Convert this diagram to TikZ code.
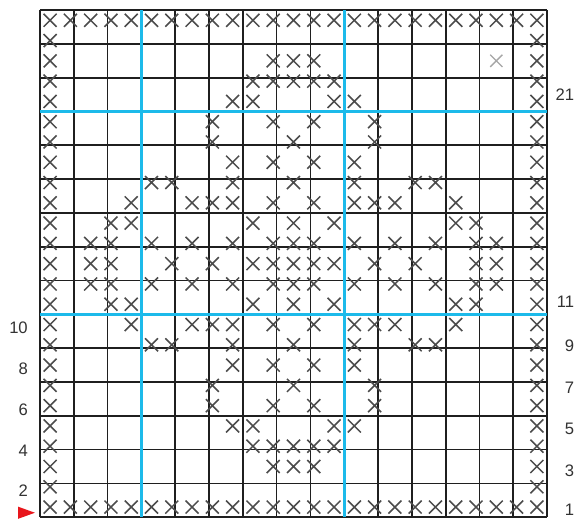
\documentclass[tikz,border=0pt]{standalone}
\usepackage{fontspec}
\setmainfont{Liberation Sans}
\definecolor{garisbiru}{RGB}{28,186,234}
\definecolor{merahpanah}{RGB}{232,22,28}
\tikzset{
  kotak/.style={draw=black!88, line width=1.5pt},
  bantu/.style={draw=garisbiru, line width=2.8pt},
  silang/.style={draw=black!70, line width=1.3pt},
  silangpudar/.style={draw=black!35, line width=1.1pt},
  nomor/.style={text=black!80, font=\fontsize{14}{16}\selectfont, inner sep=0pt},
}
% satu baris tanda silang: #1 = baris, #2 = daftar kolom
\newcommand{\silangbaris}[2]{%
  \foreach \k in {#2} {
    \draw[silang] (\k-0.82,#1-0.82) -- (\k-0.18,#1-0.18) (\k-0.82,#1-0.18) -- (\k-0.18,#1-0.82);
  }%
}
\begin{document}
\begin{tikzpicture}[x=0.6cm, y=0.6cm]
    \useasboundingbox (-1.97,-0.04) rectangle (26.33,25.5);

    % Petak (25 x 25)
    \fill[white] (-1.97,-0.04) rectangle (26.33,25.5);
    \draw[kotak] (0,0) grid (25,25);

    % Garis bantu (berwarna biru)
    \draw[bantu] (5,0) -- (5,25);
    \draw[bantu] (15,0) -- (15,25);
    \draw[bantu] (0,10) -- (25,10);
    \draw[bantu] (0,20) -- (25,20);

    % Tanda silang per baris
    \silangbaris{25}{1,...,25}
    \silangbaris{24}{1,25}
    \silangbaris{23}{1,12,13,14,25}
    \silangbaris{22}{1,11,12,13,14,15,25}
    \silangbaris{21}{1,10,11,15,16,25}
    \silangbaris{20}{1,9,12,14,17,25}
    \silangbaris{19}{1,9,13,17,25}
    \silangbaris{18}{1,10,12,14,16,25}
    \silangbaris{17}{1,6,7,10,13,16,19,20,25}
    \silangbaris{16}{1,5,8,9,10,12,14,16,17,18,21,25}
    \silangbaris{15}{1,4,5,11,13,15,21,22,25}
    \silangbaris{14}{1,3,4,6,8,10,12,13,14,16,18,20,22,23,25}
    \silangbaris{13}{1,3,4,7,9,11,12,13,14,15,17,19,22,23,25}
    \silangbaris{12}{1,3,4,6,8,10,12,13,14,16,18,20,22,23,25}
    \silangbaris{11}{1,4,5,11,13,15,21,22,25}
    \silangbaris{10}{1,5,8,9,10,12,14,16,17,18,21,25}
    \silangbaris{9}{1,6,7,10,13,16,19,20,25}
    \silangbaris{8}{1,10,12,14,16,25}
    \silangbaris{7}{1,9,13,17,25}
    \silangbaris{6}{1,9,12,14,17,25}
    \silangbaris{5}{1,10,11,15,16,25}
    \silangbaris{4}{1,11,12,13,14,15,25}
    \silangbaris{3}{1,12,13,14,25}
    \silangbaris{2}{1,25}
    \silangbaris{1}{1,...,25}
    \draw[silangpudar] (22.2,22.2) -- (22.8,22.8) (22.2,22.8) -- (22.8,22.2);

    % Nomor baris (kiri)
    \node[nomor, anchor=east] (kiri10) at (-0.59,9.35) {10};
    \node[nomor, anchor=east] (kiri8)  at (-0.59,7.3)  {8};
    \node[nomor, anchor=east] (kiri6)  at (-0.59,5.3)  {6};
    \node[nomor, anchor=east] (kiri4)  at (-0.59,3.3)  {4};
    \node[nomor, anchor=east] (kiri2)  at (-0.59,1.3)  {2};

    % Nomor baris (kanan)
    \node[nomor, anchor=east] (kanan21) at (26.35,20.85) {21};
    \node[nomor, anchor=east] (kanan11) at (26.35,10.6)  {11};
    \node[nomor, anchor=east] (kanan9)  at (26.35,8.45)  {9};
    \node[nomor, anchor=east] (kanan7)  at (26.35,6.4)   {7};
    \node[nomor, anchor=east] (kanan5)  at (26.35,4.35)  {5};
    \node[nomor, anchor=east] (kanan3)  at (26.35,2.3)   {3};
    \node[nomor, anchor=east] (kanan1)  at (26.35,0.35)  {1};

    % Penanda awal (segitiga merah)
    \fill[merahpanah] (-1.08,0.52) -- (-0.25,0.22) -- (-1.08,-0.08) -- cycle;

\end{tikzpicture}
\end{document}
